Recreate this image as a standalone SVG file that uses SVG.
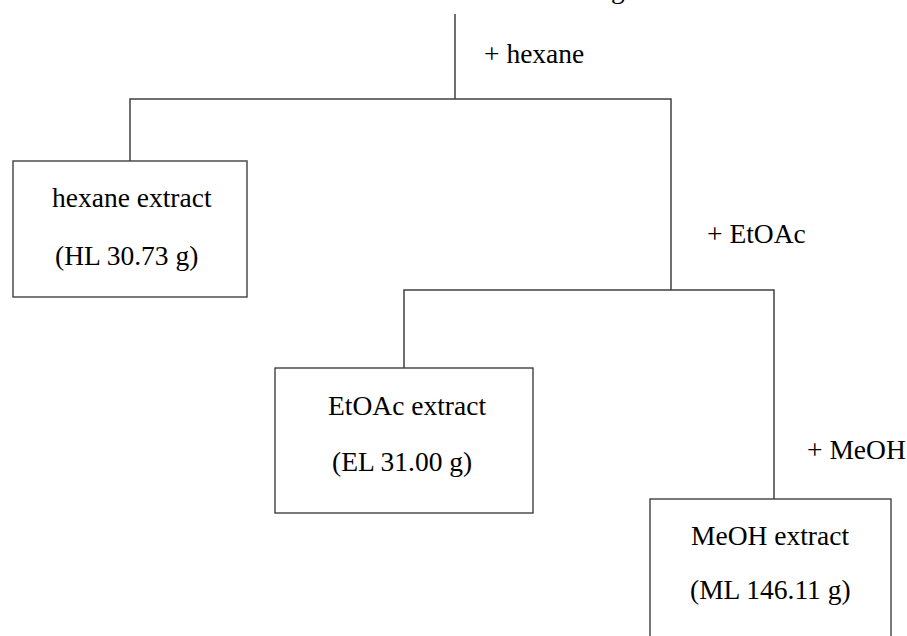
<svg xmlns="http://www.w3.org/2000/svg" width="907" height="636" viewBox="0 0 907 636" font-family="'Liberation Serif', 'Times New Roman', Times, serif" font-size="27.5">
<style>
  .box { fill: #ffffff; stroke: #404040; stroke-width: 1.4; }
  .ln { fill: none; stroke: #404040; stroke-width: 1.5; }
  .t { font-family: 'Liberation Serif', 'Times New Roman', Times, serif; font-size: 27.5px; fill: #000000; }
</style>
<rect width="907" height="636" fill="#ffffff"/>
<text class="t" x="611" y="-2">g</text>
<g id="connectors">
  <path class="ln" d="M455,14 V99"/>
  <path class="ln" d="M130,161 V99 H671 V290"/>
  <path class="ln" d="M404,368 V290 H774 V499"/>
  <text class="t" x="484" y="63">+ hexane</text>
  <text class="t" x="707" y="243">+ EtOAc</text>
  <text class="t" x="807" y="459">+ MeOH</text>
</g>
<g id="hexane">
  <rect class="box" x="13" y="161" width="234" height="136"/>
  <text class="t" x="52" y="207">hexane extract</text>
  <text class="t" x="55" y="265">(HL 30.73 g)</text>
</g>
<g id="etoac">
  <rect class="box" x="275" y="368" width="258" height="145"/>
  <text class="t" x="328" y="415">EtOAc extract</text>
  <text class="t" x="332" y="471">(EL 31.00 g)</text>
</g>
<g id="meoh">
  <rect class="box" x="650" y="499" width="241" height="160"/>
  <text class="t" x="691" y="545">MeOH extract</text>
  <text class="t" x="690" y="599">(ML 146.11 g)</text>
</g>
</svg>
